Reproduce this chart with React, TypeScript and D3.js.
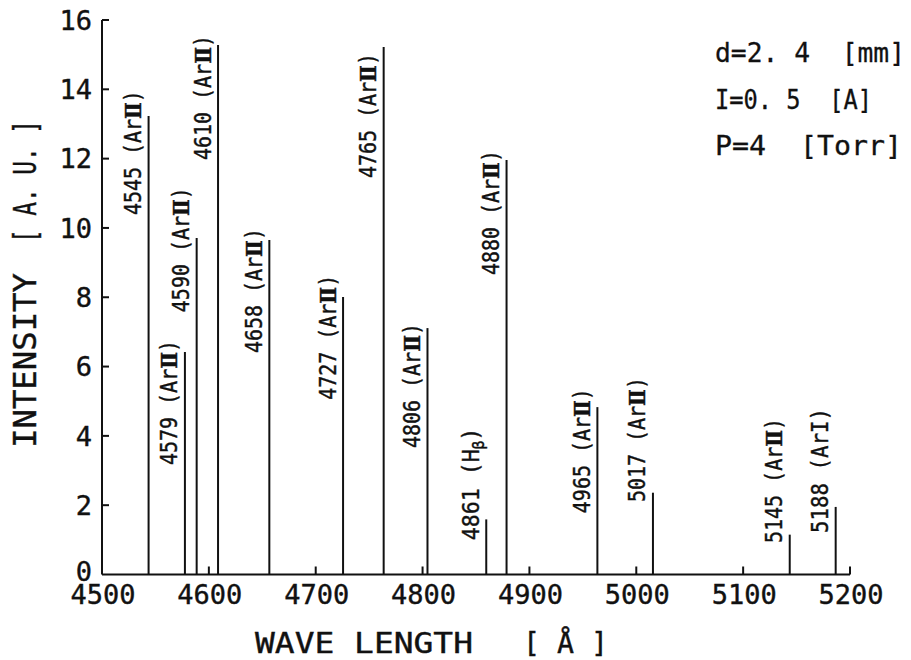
import React from 'react';
import * as d3 from 'd3';

// spectral lines: wavelength [Å], intensity [a.u.], species, where the label starts (intensity units)
const wavelengths = [4545, 4579, 4590, 4610, 4658, 4727, 4765, 4806, 4861, 4880, 4965, 5017, 5145, 5188];
const intensities = [13.23, 6.42, 9.71, 15.28, 9.65, 8.01, 15.22, 7.11, 1.59, 11.96, 4.83, 2.36, 1.15, 1.95];
const species = ['ArⅡ', 'ArⅡ', 'ArⅡ', 'ArⅡ', 'ArⅡ', 'ArⅡ', 'ArⅡ', 'ArⅡ', 'Hβ', 'ArⅡ', 'ArⅡ', 'ArⅡ', 'ArⅡ', 'ArI'];
const labelAt = [10.37, 3.16, 7.57, 11.96, 6.39, 5.04, 11.44, 3.65, 0.99, 8.64, 1.77, 2.09, 0.91, 1.2];

const xTicks = [4500, 4600, 4700, 4800, 4900, 5000, 5100, 5200];
const yTicks = [0, 2, 4, 6, 8, 10, 12, 14, 16];
const conditions = ['d=2. 4  [mm]', 'I=0. 5  [A]', 'P=4  [Torr]'];

const W = 911;
const H = 660;
const FONT = '"DejaVu Sans Mono", "Liberation Mono", monospace';
const SERIF = '"DejaVu Serif", "Liberation Serif", serif';
const INK = '#111';

// label body, with the subscript beta and a serif roman numeral
const labelBody = (w: number, sp: string) => {
  if (sp === 'Hβ') {
    return <>{w} (H<tspan baselineShift="-30%" fontSize={15}>β</tspan>)</>;
  }
  if (sp.endsWith('Ⅱ')) {
    return <>{w} (Ar<tspan fontFamily={SERIF} fontWeight="bold">Ⅱ</tspan>)</>;
  }
  return `${w} (${sp})`;
};

const App = () => {
  const x = d3.scaleLinear().domain([4500, 5200]).range([102, 850]);
  const y = d3.scaleLinear().domain([0, 16]).range([574.5, 20]);
  const y0 = y(0);

  const lines = wavelengths.map((w, i) => ({
    w, v: intensities[i], sp: species[i], at: labelAt[i],
  }));

  return (
    <svg width={W} height={H} style={{ position: 'absolute', left: 0, top: 0, background: '#fff' }}>
      {/* axes */}
      <line x1={x(4500)} x2={x(4500)} y1={y(16)} y2={y0} stroke={INK} strokeWidth={2} />
      <line x1={x(4500)} x2={x(5200)} y1={y0} y2={y0} stroke={INK} strokeWidth={2} />

      {yTicks.map(t => (
        <g key={'y' + t}>
          {t > 0 && <line x1={x(4500)} x2={x(4500) + 7} y1={y(t)} y2={y(t)} stroke={INK} strokeWidth={2} />}
          <text x={92} y={t === 0 ? 581 : y(t)} dy={t === 0 ? 0 : '0.36em'} textAnchor="end"
            fontFamily={FONT} fontSize={27} fill={INK} stroke={INK} strokeWidth={0.4}>{t}</text>
        </g>
      ))}

      {xTicks.map(t => (
        <g key={'x' + t}>
          {t > 4500 && <line x1={x(t)} x2={x(t)} y1={y0} y2={y0 - 8} stroke={INK} strokeWidth={2} />}
          <text x={x(t) + 1} y={604} textAnchor="middle" fontFamily={FONT} fontSize={27}
            fill={INK} stroke={INK} strokeWidth={0.4}>{t}</text>
        </g>
      ))}

      {/* spectral lines */}
      {lines.map(d => (
        <line key={'l' + d.w} x1={x(d.w) - 1.5} x2={x(d.w) - 1.5} y1={y0} y2={y(d.v)} stroke={INK} strokeWidth={2} />
      ))}

      {/* line labels */}
      {lines.map(d => {
        const n = String(d.w).length + 3 + d.sp.length;
        const bx = x(d.w) - 9;
        const by = y(d.at);
        return (
          <text key={'t' + d.w} transform={`translate(${bx},${by}) rotate(-90)`}
            fontFamily={FONT} fontSize={23} fill={INK} stroke={INK} strokeWidth={0.4}
            textLength={n * 12.5} lengthAdjust="spacingAndGlyphs" style={{ whiteSpace: 'pre' }}>
            {labelBody(d.w, d.sp)}
          </text>
        );
      })}

      {/* axis titles */}
      <text fontFamily={FONT} fontSize={29} fill={INK} stroke={INK} strokeWidth={0.4} y={653} style={{ whiteSpace: 'pre' }}>
        <tspan x={255} textLength={218} lengthAdjust="spacingAndGlyphs">WAVE LENGTH</tspan>
        <tspan x={523} textLength={85} lengthAdjust="spacingAndGlyphs">[ Å ]</tspan>
      </text>
      <text transform="translate(36,448) rotate(-90)" fontFamily={FONT} fontSize={32} fill={INK}
        stroke={INK} strokeWidth={0.4} style={{ whiteSpace: 'pre' }}>
        <tspan x={0} textLength={175} lengthAdjust="spacingAndGlyphs">INTENSITY</tspan>
        <tspan x={205} textLength={123} lengthAdjust="spacingAndGlyphs">[ A. U. ]</tspan>
      </text>

      {/* experimental conditions */}
      {conditions.map((c, i) => (
        <text key={c} x={715} y={62 + i * 46.5} fontFamily={FONT} fontSize={27} fill={INK}
          stroke={INK} strokeWidth={0.3}
          textLength={[190, 157, 187][i]} lengthAdjust="spacingAndGlyphs" style={{ whiteSpace: 'pre' }}>{c}</text>
      ))}
    </svg>
  );
};

export default App;
